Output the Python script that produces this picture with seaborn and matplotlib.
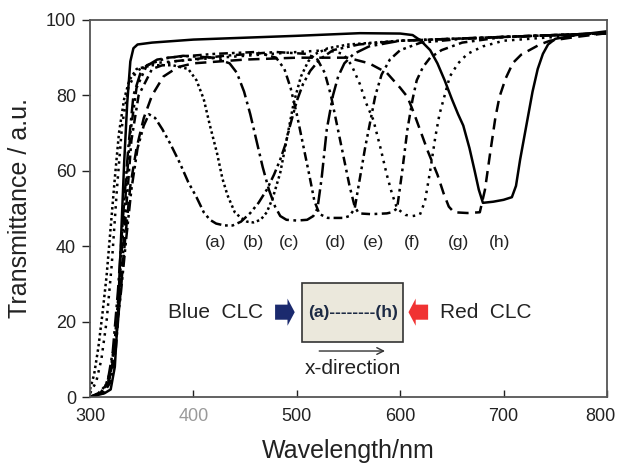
import matplotlib
matplotlib.use("Agg")
import matplotlib.pyplot as plt
import matplotlib.patches as mpatches
import matplotlib.transforms as mtransforms
import seaborn as sns

# ---- data (wavelength nm, transmittance a.u.) ----
wl_a = [300, 308, 315, 320, 325, 330, 335, 340, 346, 352, 357, 363, 370, 378, 387, 395, 403, 410, 416, 422,
        430, 438, 446, 455, 463, 471, 478, 484, 489, 493, 500, 506, 513, 522, 535, 560, 600, 650, 700, 750, 800]
t_a = [0, 1, 3, 7, 16, 28, 42, 55, 66, 72, 75, 74, 71, 67, 62, 57, 53, 49, 47, 46,
       45.5, 45.5, 46.5, 48.8, 51.5, 55, 59, 63, 67, 71.5, 78.5, 83, 86.5, 89.5, 92, 93.5, 94.5, 95, 95.5, 96, 96.5]

wl_b = [300, 304, 308, 312, 316, 320, 324, 328, 333, 338, 345, 360, 380, 395, 403, 410, 416, 423, 428, 433,
        440, 446, 452, 458, 465, 471, 477, 484, 490, 497, 504, 511, 518, 530, 550, 600, 650, 700, 750, 800]
t_b = [2, 6, 13, 22, 32, 45, 58, 70, 79, 84, 87, 88, 88, 87, 84, 79, 72, 64.5, 58, 53.5,
       49, 47.5, 46.5, 46.3, 47, 49, 53, 59.5, 68, 78, 85, 89, 91, 92.5, 93.5, 94.5, 95, 95.5, 96, 96.5]

wl_c = [300, 310, 317, 322, 327, 332, 337, 342, 350, 365, 390, 420, 435, 442, 449, 455, 461, 467, 473, 479,
        484, 490, 500, 510, 516, 520, 524, 529, 535, 540, 546, 555, 570, 600, 650, 700, 800]
t_c = [0, 1, 4, 12, 28, 48, 66, 80, 87, 89.5, 90.5, 90, 88.5, 86, 81, 75, 68, 61, 55, 50.5,
       48, 47, 46.8, 47, 48, 50, 58, 71, 80, 85, 88.5, 91, 93, 94.5, 95, 95.5, 96.5]

wl_d = [300, 312, 319, 324, 329, 334, 339, 345, 355, 375, 420, 460, 480, 488, 494, 500, 506, 512, 517, 522,
        530, 545, 551, 556, 561, 566, 571, 576, 582, 590, 600, 620, 660, 700, 800]
t_d = [0, 1, 5, 15, 32, 52, 70, 82, 88, 90, 91, 91.5, 90, 87, 82, 75, 67, 59, 52, 48.5,
       47.5, 47.5, 48, 50, 58, 66, 73, 80, 85.5, 89.5, 92, 94, 95, 95.5, 96.5]

wl_e = [300, 313, 320, 325, 330, 335, 340, 347, 360, 380, 430, 480, 510, 520, 527, 533, 539, 545, 551, 556,
        560, 572, 587, 592, 597, 602, 607, 612, 616, 622, 629, 640, 660, 700, 800]
t_e = [0, 1, 4, 13, 30, 50, 68, 80, 87, 89, 90.5, 91.5, 91, 89.5, 86, 80, 72, 64, 56, 50.5,
       48.7, 48.5, 48.7, 49, 50, 60, 71, 79, 84, 87.5, 90, 92, 94, 95.5, 96.5]

wl_f = [300, 306, 311, 316, 321, 326, 331, 337, 345, 360, 400, 450, 500, 530, 545, 553, 561, 567, 574, 581,
        587, 592, 597, 605, 612, 619, 624, 629, 634, 638, 643, 648, 656, 665, 680, 700, 750, 800]
t_f = [1, 4, 10, 20, 35, 55, 72, 82, 86.5, 88.5, 89.5, 90.5, 91.5, 92, 91, 88, 83, 78, 73.5, 66,
       59, 54, 50, 48.3, 48, 48.3, 52, 60, 69, 75, 80, 85, 88.5, 91, 93, 94.5, 95.5, 96.5]

wl_g = [300, 310, 318, 324, 329, 334, 339, 345, 352, 360, 371, 385, 400, 450, 500, 549, 570, 587, 600, 607,
        613, 619, 627, 636, 642, 647, 652, 665, 677, 682, 687, 692, 696, 702, 709, 717, 725, 735, 745, 770, 800]
t_g = [0, 1, 4, 12, 26, 42, 56, 66, 74, 80, 85, 87.5, 88.5, 89.5, 90, 90, 88.5, 86, 82, 79.6,
       75.5, 71, 65, 59, 54, 50.5, 49, 48.8, 49, 55, 64.7, 74, 79.6, 84.5, 88.6, 90.8, 92, 93.5, 94.5, 95.5, 96.5]

wl_h = [300, 314, 320, 324, 327, 330, 333, 336, 339, 342, 346, 360, 400, 450, 500, 561, 600, 612, 620, 629,
        636, 643, 650, 656, 661, 667, 672, 676, 680, 690, 700, 708, 712, 716, 720, 723, 728, 733, 738, 743,
        750, 770, 800]
t_h = [0, 1, 2, 8, 22, 42, 62, 78, 89, 92.5, 93.5, 94, 94.8, 95.3, 95.8, 96.5, 96.4, 96, 94.5, 92,
       88.5, 84, 79, 75, 72, 66, 60, 55, 51.5, 51.8, 52.3, 53, 56, 63, 69, 73.5, 81, 87, 91, 93.5,
       95, 96, 97]

curve_labels = ["(a)", "(b)", "(c)", "(d)", "(e)", "(f)", "(g)", "(h)"]
label_wl = [421, 458, 493, 537, 574, 612, 656, 696]

x_ticks = [300, 400, 500, 600, 700, 800]
y_ticks = [0, 20, 40, 60, 80, 100]

sns.set_theme(style="ticks")
plt.rcParams["font.family"] = ["Liberation Sans", "DejaVu Sans"]

fig = plt.figure(figsize=(6.19, 4.69), dpi=100, facecolor="white")
ax = fig.add_axes([0.1454, 0.1535, 0.8352, 0.8039])

styles = [
    (wl_a, t_a, (0, (4.5, 1.5, 1.1, 1.5, 1.1, 1.5))),
    (wl_b, t_b, (0, (1, 1.2))),
    (wl_c, t_c, (0, (6, 1.8, 1.1, 1.8))),
    (wl_d, t_d, (0, (3.5, 1.6, 1.1, 1.6, 1.1, 1.6))),
    (wl_e, t_e, (0, (3.5, 1.8, 1.1, 1.8))),
    (wl_f, t_f, (0, (1, 2))),
    (wl_g, t_g, (0, (4.5, 2.6))),
    (wl_h, t_h, "-"),
]
for wl, t, ls in styles:
    sns.lineplot(x=wl, y=t, ax=ax, color="black", linestyle=ls, lw=1.8,
                 sort=False, estimator=None)

ax.set_xlim(300, 800)
ax.set_ylim(0, 100)
ax.set_xticks(x_ticks)
ax.set_yticks(y_ticks)
ax.tick_params(axis="x", direction="in", length=5, width=1, labelsize=13, pad=8, colors="#222222")
ax.tick_params(axis="y", direction="out", length=6, width=1, labelsize=13, pad=4, colors="#222222")
xlabels = ax.get_xticklabels()
xlabels[1].set_color("#9a9a9a")
xlabels[-1].set_transform(xlabels[-1].get_transform()
                          + mtransforms.ScaledTranslation(-5 / 72, 0, fig.dpi_scale_trans))
for sp in ax.spines.values():
    sp.set_visible(True)
    sp.set_color("#555555")
    sp.set_linewidth(1.3)

ax.set_xlabel("Wavelength/nm", fontsize=18, labelpad=10, color="#222222")
ax.set_ylabel("Transmittance / a.u.", fontsize=18, labelpad=10, color="#222222")

for lab, x in zip(curve_labels, label_wl):
    ax.text(x, 41, lab, ha="center", va="center", fontsize=12.5, color="#222222")

# inset sketch: sample cell with blue / red CLC sides
ax.text(421, 22.5, "Blue  CLC", ha="center", va="center", fontsize=15, color="#222222")
ax.text(683, 22.5, "Red  CLC", ha="center", va="center", fontsize=15, color="#222222")
ax.add_patch(mpatches.Rectangle((505, 14.6), 98, 15.6, facecolor="#ebe8dc",
                                edgecolor="#333333", lw=1.2, zorder=3))
ax.text(554, 22.4, "(a)--------(h)", ha="center", va="center", fontsize=12.5,
        fontweight="bold", color="#1c2a44", zorder=4)
ax.add_patch(mpatches.FancyArrow(479, 22.5, 19, 0, width=4.0, head_width=7.2, head_length=7,
                                 length_includes_head=True, color="#1b2a6e", lw=0, zorder=4))
ax.add_patch(mpatches.FancyArrow(627, 22.5, -19, 0, width=4.0, head_width=7.2, head_length=7,
                                 length_includes_head=True, color="#f03232", lw=0, zorder=4))
ax.annotate("", xy=(588, 12.2), xytext=(519, 12.2),
            arrowprops=dict(arrowstyle="->", color="#333333", lw=1.0))
ax.text(554, 7.6, "x-direction", ha="center", va="center", fontsize=15, color="#222222")

fig.savefig("out.png", dpi=100, facecolor="white")
